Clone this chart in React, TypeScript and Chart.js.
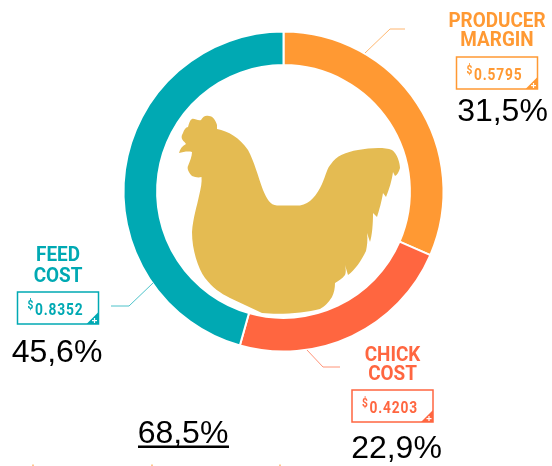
import React, { useEffect, useRef } from "react";
import { Chart, registerables } from "chart.js";

Chart.register(...registerables);

const categories = ["PRODUCER MARGIN", "CHICK COST", "FEED COST"];
const shares = [31.5, 22.9, 45.6];
const colors = ["#FF9933", "#FF6640", "#00A9B3"];
const prices = ["0.5795", "0.4203", "0.8352"];
const shareLabels = ["31,5%", "22,9%", "45,6%"];
const totalLabel = "68,5%";
const nameLines = [["PRODUCER", "MARGIN"], ["CHICK", "COST"], ["FEED", "COST"]];

const W = 552;
const H = 466;

const chickenPath =
  "M217 129 C228 131 240 138 248 150 C254 161 258 176 263 190 C267 199 270 205 277 205.5 L300 205.5 C310 204 317 195 322 184 C326 175 327 168 331 164 C336 156 346 152 358 150 C370 148 384 147 392 150 C397 153 400 163 400 168 C399 172 397 175 395 176 L393 172 C392 180 389 190 386 197 L383 193 C382 200 379 211 377 217 L373 213 C373 225 372 235 370 242 L367 233 C368 240 367 246 366 251 C361 261 355 270 348 275 L345 265 C346 270 346 272 345 275 C342 279 338 281 335 283 C335 288 334 293 332 297 C329 302 324 307 320 309 C305 313 280 315 262 313 L230 298 C220 293 213 288 205 278 C198 268 192 250 192 232 C193 218 197 206 199 196 C201 188 202 182 201.5 177 C198 178 195 177 192 176 C188 172 187 168 188 166 C190 161 192 156 192 152 C188 151 183 152 179 153 C180 149 182 146 186 144 L184.5 142 C181 139 181 136 183 133 C184 130 186 127 188 127 C189 123 190 120 192 119 C194 118 198 121 201 120 C203 116 206 115 209 116 C213 116 216 121 217 125 Z";

const specks = [32, 151, 279];

const doughnutExtras = {
  id: "doughnutExtras",
  afterDatasetsDraw(chart: any) {
    const ctx: CanvasRenderingContext2D = chart.ctx;

    // Chicken
    ctx.save();
    ctx.fillStyle = "#E4BB52";
    ctx.fill(new Path2D(chickenPath));
    ctx.restore();

    const narrow = (text: string, cx: number, baseline: number, size: number, color: string, sx: number) => {
      ctx.save();
      ctx.font = `700 ${size}px Roboto`;
      ctx.fillStyle = color;
      ctx.textAlign = "center";
      ctx.textBaseline = "alphabetic";
      ctx.translate(cx, baseline);
      ctx.scale(sx, 1);
      ctx.fillText(text, 0, 0);
      ctx.restore();
    };

    const leader = (pts: number[][], color: string) => {
      ctx.save();
      ctx.globalAlpha = 0.7;
      ctx.strokeStyle = color;
      ctx.lineWidth = 1;
      ctx.beginPath();
      pts.forEach((p, i) => (i ? ctx.lineTo(p[0], p[1]) : ctx.moveTo(p[0], p[1])));
      ctx.stroke();
      ctx.restore();
    };

    const percent = (text: string, x: number, y: number) => {
      ctx.save();
      ctx.font = "32px 'Liberation Sans'";
      ctx.fillStyle = "#000";
      ctx.textAlign = "center";
      ctx.fillText(text, x, y);
      ctx.restore();
    };

    const callout = (i: number, cx: number, nameY: number[], bx: number, by: number, pctX: number, pctY: number) => {
      const c = colors[i];
      const bw = 81;
      const bh = 32;
      nameLines[i].forEach((t, k) => narrow(t, cx, nameY[k], 21, c, 0.9));
      ctx.save();
      ctx.strokeStyle = c;
      ctx.lineWidth = 1.5;
      ctx.strokeRect(bx, by, bw, bh);
      ctx.fillStyle = c;
      ctx.beginPath();
      ctx.moveTo(bx + bw, by + bh - 12);
      ctx.lineTo(bx + bw, by + bh);
      ctx.lineTo(bx + bw - 12, by + bh);
      ctx.closePath();
      ctx.fill();
      ctx.fillStyle = "#fff";
      ctx.fillRect(bx + bw - 6.5, by + bh - 4, 5, 1.2);
      ctx.fillRect(bx + bw - 4.6, by + bh - 6, 1.2, 5);
      ctx.restore();
      narrow("$", bx + 13, by + 17, 12, c, 0.85);
      ctx.save();
      ctx.font = "700 17px Roboto";
      ctx.fillStyle = c;
      ctx.textAlign = "left";
      ctx.translate(bx + 17.5, by + 23);
      ctx.scale(0.81, 1);
      (ctx as any).letterSpacing = "1px";
      ctx.fillText(prices[i], 0, 0);
      ctx.restore();
      percent(shareLabels[i], pctX, pctY);
    };

    leader([[365, 53], [390, 29], [405, 29]], colors[0]);
    leader([[307, 350], [323, 367], [340, 367]], colors[1]);
    leader([[153, 283], [129, 306], [111, 306]], colors[2]);

    callout(0, 497, [27, 46], 456.5, 57, 502.5, 121);
    callout(1, 392.5, [361, 380], 352, 390, 396.5, 458);
    callout(2, 58, [261, 282], 17.5, 292, 57, 362);

    // Total
    percent(totalLabel, 183, 443);
    ctx.save();
    ctx.fillStyle = "#000";
    ctx.fillRect(138, 445.5, 91, 2.5);
    // Clipped remains of a line below the picture
    ctx.fillStyle = "#FFC98F";
    specks.forEach((x) => ctx.fillRect(x, 464.5, 2, 1.5));
    ctx.restore();
  },
};

export default function App() {
  const ref = useRef<HTMLCanvasElement>(null);
  useEffect(() => {
    const chart = new Chart(ref.current!, {
      type: "doughnut",
      data: {
        labels: categories,
        datasets: [
          {
            data: shares,
            backgroundColor: colors,
            borderColor: "#fff",
            borderWidth: 2,
            borderAlign: "center",
          },
        ],
      },
      options: {
        responsive: false,
        animation: false,
        cutout: "79%",
        layout: { padding: { left: 122.5, right: 107.5, top: 30.5, bottom: 113.5 } },
        plugins: { legend: { display: false }, tooltip: { enabled: false } },
      },
      plugins: [doughnutExtras],
    });
    return () => chart.destroy();
  }, []);
  return (
    <canvas
      ref={ref}
      width={W}
      height={H}
      style={{ position: "absolute", left: 0, top: 0, width: W, height: H, background: "#fff" }}
    />
  );
}
